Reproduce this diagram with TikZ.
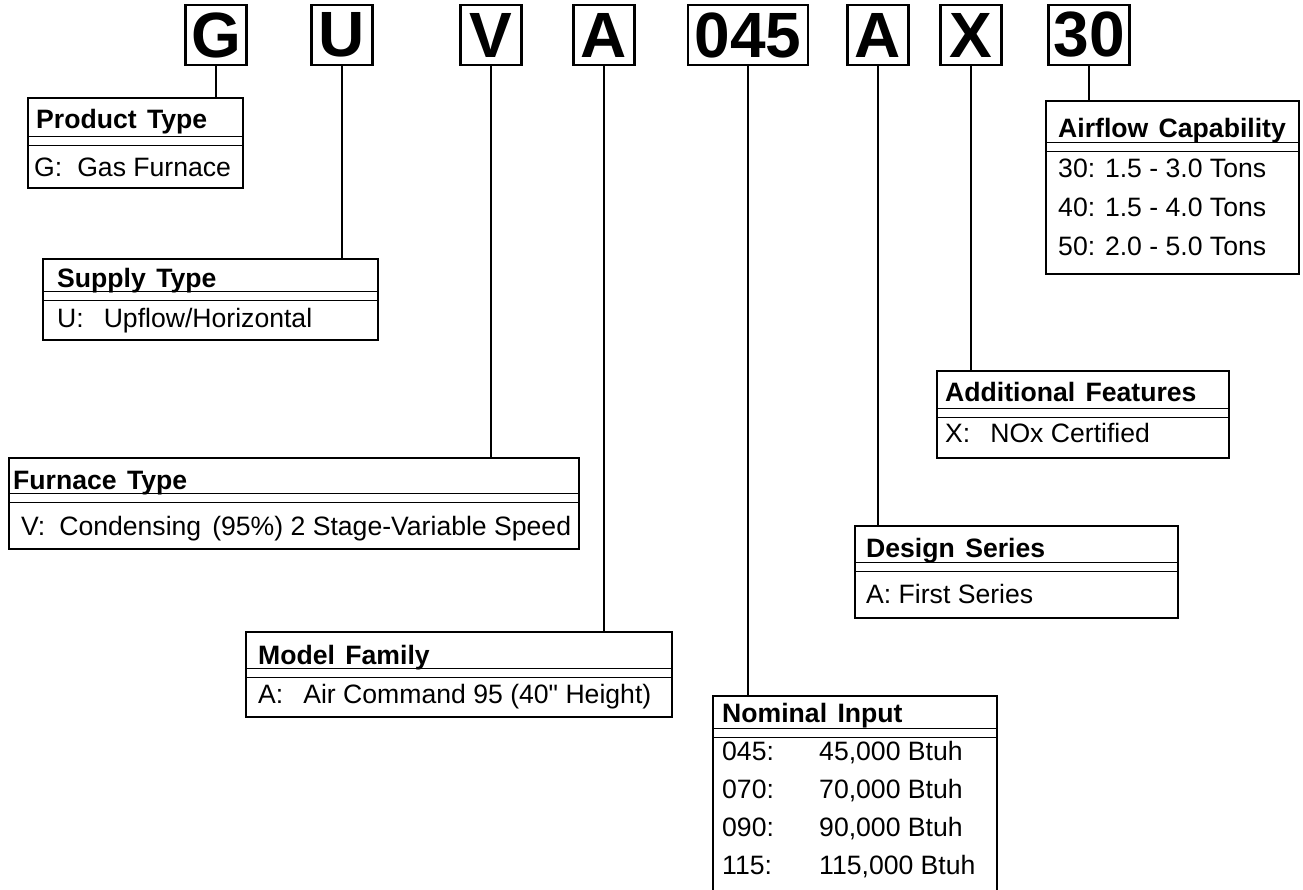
\documentclass[tikz,border=0pt]{standalone}
\usepackage{fontspec}
\setmainfont{Liberation Sans}
\newcommand{\descsize}{\fontsize{26.6}{30}\selectfont}
\newcommand{\codesize}{\fontsize{64}{64}\selectfont\bfseries}
% double rule under a box title
\newcommand{\dblrule}[3]{\draw[rule] (#1,#3) -- (#2,#3) (#1,#3+9) -- (#2,#3+9);}

\begin{document}
\begin{tikzpicture}[x=1pt, y=-1pt,
    code/.style={draw, line width=2.2pt, font=\codesize, inner sep=0pt, minimum height=60pt},
    descbox/.style={draw, line width=2pt, anchor=north west, inner sep=0pt},
    hdr/.style={anchor=base west, font=\descsize\bfseries, inner sep=0pt},
    row/.style={anchor=base west, font=\descsize, inner sep=0pt},
    rule/.style={line width=1pt},
    lead/.style={line width=1.8pt}]
  \useasboundingbox (0,0) rectangle (1303,890);

  % model number
  \node[code, minimum width=61pt]  (cG)   at (216,35)  {G};
  \node[code, minimum width=61pt]  (cU)   at (342,35)  {U};
  \node[code, minimum width=61pt]  (cV)   at (491,35)  {V};
  \node[code, minimum width=61pt]  (cA)   at (604,35)  {A};
  \node[code, minimum width=120pt] (cIn)  at (748,35)  {045};
  \node[code, minimum width=61pt]  (cDs)  at (878,35)  {A};
  \node[code, minimum width=61pt]  (cX)   at (971,35)  {X};
  \node[code, minimum width=81pt]  (cAir) at (1089,35) {30};

  % product type
  \node[descbox, minimum width=215pt, minimum height=90pt] (pt) at (27,97) {};
  \node[hdr] (ptH) at (36,129) {Product\hspace{3pt} Type};
  \dblrule{27}{242}{137}
  \node[row] (ptR) at (34,177) {G:\hspace{15pt}Gas Furnace};

  % supply type
  \node[descbox, minimum width=335pt, minimum height=81pt] (st) at (42,258) {};
  \node[hdr] (stH) at (57,288) {Supply\hspace{3pt} Type};
  \dblrule{42}{377}{292}
  \node[row] (stR) at (57,327) {U:\hspace{20pt}Upflow/Horizontal};

  % furnace type
  \node[descbox, minimum width=570pt, minimum height=91pt] (ft) at (8,457) {};
  \node[hdr] (ftH) at (13,489) {Furnace\hspace{3pt} Type};
  \dblrule{8}{578}{493}
  \node[row] (ftR) at (21,535) {V:\hspace{14pt}Condensing\hspace{11pt}(95\%) 2 Stage-Variable Speed};

  % model family
  \node[descbox, minimum width=426pt, minimum height=85pt] (mf) at (245,631) {};
  \node[hdr] (mfH) at (258,664) {Model\hspace{3pt} Family};
  \dblrule{245}{671}{668}
  \node[row] (mfR) at (258,703) {A:\hspace{20pt}Air Command 95 (40\textquotedbl\ Height)};

  % nominal input
  \coordinate (ni) at (748,696);
  \draw[line width=2pt] (713,890) |- (997,696) -- (997,890);
  \node[hdr] (niH) at (722,722) {Nominal\hspace{3pt} Input};
  \dblrule{713}{997}{728}
  \foreach \code/\val [count=\i from 0] in {045/{45,000}, 070/{70,000}, 090/{90,000}, 115/{115,000}}{
    \node[row] (niK\i) at (722,760+38*\i) {\code:};
    \node[row] (niV\i) at (819,760+38*\i) {\val\ Btuh};
  }

  % design series
  \node[descbox, minimum width=323pt, minimum height=92pt] (ds) at (854,525) {};
  \node[hdr] (dsH) at (866,557) {Design\hspace{3pt} Series};
  \dblrule{854}{1177}{562}
  \node[row] (dsR) at (866,603) {A: First Series};

  % additional features
  \node[descbox, minimum width=292pt, minimum height=87pt] (af) at (936,370) {};
  \node[hdr] (afH) at (945,401) {Additional\hspace{3pt} Features};
  \dblrule{936}{1228}{408}
  \node[row] (afR) at (945,442) {X:\hspace{20pt}NOx Certified};

  % airflow capability
  \node[descbox, minimum width=253pt, minimum height=173pt] (ac) at (1045,100) {};
  \node[hdr] (acH) at (1058,138) {Airflow\hspace{3pt} Capability};
  \dblrule{1045}{1298}{143}
  \foreach \t [count=\i from 0] in {30: 1.5 - 3.0 Tons, 40: 1.5 - 4.0 Tons, 50: 2.0 - 5.0 Tons}
    \node[row] (acR\i) at (1058,178+39*\i) {\t};

  % leaders
  \draw[lead] (cG.south)   -- (cG.south |- pt.north);
  \draw[lead] (cU.south)   -- (cU.south |- st.north);
  \draw[lead] (cV.south)   -- (cV.south |- ft.north);
  \draw[lead] (cA.south)   -- (cA.south |- mf.north);
  \draw[lead] (cIn.south)  -- (cIn.south |- ni);
  \draw[lead] (cDs.south)  -- (cDs.south |- ds.north);
  \draw[lead] (cX.south)   -- (cX.south |- af.north);
  \draw[lead] (cAir.south) -- (cAir.south |- ac.north);
\end{tikzpicture}
\end{document}
